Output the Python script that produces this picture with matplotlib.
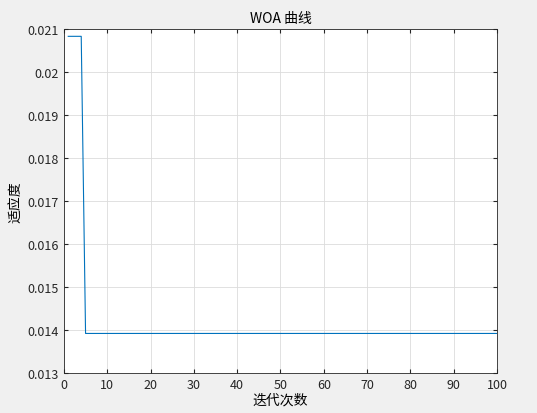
import matplotlib
matplotlib.use("Agg")
import matplotlib.pyplot as plt

plt.rcParams['font.family'] = ['Noto Sans CJK SC', 'DejaVu Sans']

# best fitness per iteration
iters = list(range(1, 101))
fitness = [0.02083] * 4 + [0.01392] * 96

fig = plt.figure(figsize=(5.37, 4.14), dpi=100, facecolor='#f0f0f0')
ax = fig.add_axes([0.119, 0.0966, 0.8065, 0.8309])
ax.plot(iters, fitness, color='#0072BD', lw=0.8)
ax.set_xlim(0, 100)
ax.set_ylim(0.013, 0.021)
ax.set_xticks(range(0, 101, 10))
ax.set_yticks([0.013, 0.014, 0.015, 0.016, 0.017, 0.018, 0.019, 0.02, 0.021])
ax.set_yticklabels(['0.013', '0.014', '0.015', '0.016', '0.017', '0.018', '0.019', '0.02', '0.021'])
ax.grid(True, color='#dcdcdc', lw=0.6)
ax.tick_params(labelsize=9, colors='#262626', direction='in', length=3, top=True, right=True)
for s in ax.spines.values():
    s.set_color('#262626')
    s.set_linewidth(0.6)
ax.set_title('WOA 曲线', fontsize=10, color='black', pad=5)
ax.set_xlabel('迭代次数', fontsize=10, labelpad=1)
ax.set_ylabel('适应度', fontsize=10, labelpad=3)

fig.savefig('out.png', dpi=100, facecolor=fig.get_facecolor())
